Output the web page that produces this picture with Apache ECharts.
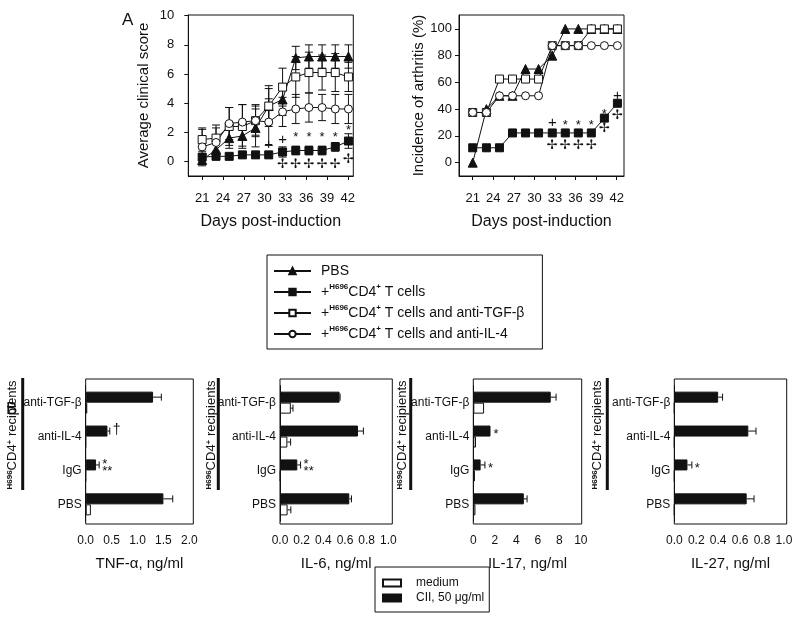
<!DOCTYPE html>
<html><head><meta charset="utf-8">
<script src="https://cdn.jsdelivr.net/npm/echarts@6/dist/echarts.min.js"></script>
<style>html,body{margin:0;padding:0;background:#fff}#c{width:800px;height:617px}</style>
</head><body><div id="c"></div><script>
// ---------- data: panel A ----------
const days = [21, 23, 24.9, 26.8, 28.7, 30.6, 32.6, 34.5, 36.4, 38.3, 40.2, 42.1];
const dayTicks = [21, 24, 27, 30, 33, 36, 39, 42];
const scoreTicks = [0, 2, 4, 6, 8, 10];
const incTicks = [0, 20, 40, 60, 80, 100];
const groupNames = ['PBS', '+H696CD4+ T cells', '+H696CD4+ T cells and anti-TGF-β', '+H696CD4+ T cells and anti-IL-4'];

const pbsScore = [0.1, 0.8, 1.6, 1.75, 2.3, 3.8, 4.25, 7.1, 7.2, 7.2, 7.2, 7.2];
const pbsScoreErr = [0.4, 0.5, 0.7, 0.7, 1.3, 1.2, 1.1, 0.8, 0.8, 0.8, 0.8, 0.8];
const cd4Score = [0.3, 0.35, 0.35, 0.45, 0.45, 0.45, 0.65, 0.75, 0.75, 0.75, 1.0, 1.4];
const cd4ScoreErr = [0.2, 0.2, 0.2, 0.15, 0.15, 0.15, 0.35, 0.3, 0.3, 0.3, 0.3, 0.5];
const tgfScore = [1.5, 1.6, 2.4, 2.4, 2.8, 3.8, 5.1, 5.8, 6.1, 6.1, 6.1, 5.8];
const tgfScoreErr = [0.8, 0.9, 1.3, 1.5, 1.1, 1.4, 1.3, 1.4, 1.4, 1.2, 1.3, 1.0];
const il4Score = [1.0, 1.3, 2.6, 2.7, 2.8, 2.7, 3.4, 3.6, 3.7, 3.7, 3.6, 3.6];
const il4ScoreErr = [1.2, 1.0, 1.1, 1.2, 1.0, 1.6, 1.0, 1.0, 1.0, 0.9, 1.0, 1.0];

const pbsInc = [0, 40, 50, 50, 70, 70, 80, 100, 100, 100, 100, 100];
const cd4Inc = [11.1, 11.1, 11.1, 22.2, 22.2, 22.2, 22.2, 22.2, 22.2, 22.2, 33.3, 44.4];
const tgfInc = [37.5, 37.5, 62.5, 62.5, 62.5, 62.5, 87.5, 87.5, 87.5, 100, 100, 100];
const il4Inc = [37.5, 37.5, 50, 50, 50, 50, 87.5, 87.5, 87.5, 87.5, 87.5, 87.5];

// [day index, value, mark]
const scoreNotes = [[5, 1.15, '+'], [6, 1.45, '+'], [7, 1.85, '*'], [8, 1.85, '*'], [9, 1.85, '*'], [10, 1.85, '*'], [11, 2.3, '*'],
  [6, -0.23, '✢'], [7, -0.23, '✢'], [8, -0.23, '✢'], [9, -0.23, '✢'], [10, -0.23, '✢'], [11, 0.16, '✢']];
const incNotes = [[6, 29.4, '+'], [7, 30.3, '*'], [8, 30.3, '*'], [9, 30.3, '*'], [10, 38, '*'], [11, 50, '+'],
  [6, 13.2, '✢'], [7, 13.2, '✢'], [8, 13.2, '✢'], [9, 13.2, '✢'], [10, 25.4, '✢'], [11, 35.3, '✢']];

// ---------- data: panel B ----------
const cytoCats = ['anti-TGF-β', 'anti-IL-4', 'IgG', 'PBS'];
const tnfCII = [1.3, 0.42, 0.2, 1.5], tnfCIIErr = [0.16, 0.045, 0.06, 0.18];
const tnfMed = [0.03, 0, 0, 0.1], tnfMedErr = [0, 0, 0, 0];
const tnfNotes = ['', '†', '*\n**', ''];
const tnfTicks = [0, 0.5, 1.0, 1.5, 2.0];
const il6CII = [0.55, 0.72, 0.16, 0.64], il6CIIErr = [0.005, 0.05, 0.03, 0.02];
const il6Med = [0.1, 0.068, 0.005, 0.07], il6MedErr = [0.02, 0.03, 0, 0.03];
const il6Notes = ['', '', '*\n**', ''];
const il6Ticks = [0, 0.2, 0.4, 0.6, 0.8, 1.0];
const il17CII = [7.2, 1.6, 0.68, 4.7], il17CIIErr = [0.5, 0, 0.4, 0.3];
const il17Med = [1.0, 0.25, 0.15, 0.2], il17MedErr = [0, 0, 0, 0];
const il17Notes = ['', '*', '*', ''];
const il17Ticks = [0, 2, 4, 6, 8, 10];
const il27CII = [0.4, 0.675, 0.12, 0.66], il27CIIErr = [0.04, 0.07, 0.04, 0.067];
const il27Med = [0, 0, 0, 0], il27MedErr = [0, 0, 0, 0];
const il27Notes = ['', '', '*', ''];
const il27Ticks = [0, 0.2, 0.4, 0.6, 0.8, 1.0];
const barNames = ['medium', 'CII, 50 μg/ml'];

// ---------- rendering ----------
const FONT = 'Liberation Sans, Arial, DejaVu Sans, sans-serif';
const INK = '#111';
const chart = echarts.init(document.getElementById('c'));

function fmt1(v) { return v.toFixed(1); }

function lineSeries(name, gi, vals, symbol, size, filled) {
  return {
    type: 'line', name, xAxisIndex: gi, yAxisIndex: gi, z: 3,
    data: days.map((d, i) => [d, vals[i]]),
    symbol, symbolSize: size, showAllSymbol: true, animation: false,
    lineStyle: { color: INK, width: 1 },
    itemStyle: { color: filled ? INK : '#fff', borderColor: INK, borderWidth: 1 }
  };
}
function errSeries(gi, vals, errs) {
  return {
    type: 'custom', name: 'err' + gi + vals[0] + errs[0], xAxisIndex: gi, yAxisIndex: gi, z: 1, silent: true, animation: false,
    data: days.map((d, i) => [d, vals[i], errs[i]]),
    renderItem(params, api) {
      const x = api.value(0), y = api.value(1), e = api.value(2);
      const lo = api.coord([x, y - e]), hi = api.coord([x, y + e]);
      const w = 4, st = { stroke: INK, lineWidth: 1 };
      return { type: 'group', children: [
        { type: 'line', shape: { x1: lo[0], y1: lo[1], x2: hi[0], y2: hi[1] }, style: st },
        { type: 'line', shape: { x1: lo[0] - w, y1: lo[1], x2: lo[0] + w, y2: lo[1] }, style: st },
        { type: 'line', shape: { x1: hi[0] - w, y1: hi[1], x2: hi[0] + w, y2: hi[1] }, style: st }
      ]};
    }
  };
}
function noteSeries(gi, notes) {
  return {
    type: 'custom', name: 'notes' + gi, xAxisIndex: gi, yAxisIndex: gi, z: 4, silent: true, animation: false,
    data: notes.map(n => [days[n[0]], n[1]]),
    renderItem(params, api) {
      const p = api.coord([api.value(0), api.value(1)]);
      const t = notes[params.dataIndex][2];
      const dy = t === '*' ? 3 : 0;
      return { type: 'text', x: p[0], y: p[1] + dy, style: { text: t, fill: INK, fontFamily: FONT, fontSize: t === '+' ? 15 : 13, align: 'center', verticalAlign: 'middle' } };
    }
  };
}

// panel B layout
const bGrids = [
  { left: 85.7, width: 107.6, max: 2.077 },
  { left: 280, width: 112.3, max: 1.037 },
  { left: 473.3, width: 108.4, max: 10.08 },
  { left: 674.3, width: 112.4, max: 1.025 }
];
const bTop = 385.7, bH = 135.6, frameTop = 379, frameH = 145;
const bSets = [
  { cii: tnfCII, ciiErr: tnfCIIErr, med: tnfMed, medErr: tnfMedErr, notes: tnfNotes, ticks: tnfTicks, title: 'TNF-α, ng/ml' },
  { cii: il6CII, ciiErr: il6CIIErr, med: il6Med, medErr: il6MedErr, notes: il6Notes, ticks: il6Ticks, title: 'IL-6, ng/ml' },
  { cii: il17CII, ciiErr: il17CIIErr, med: il17Med, medErr: il17MedErr, notes: il17Notes, ticks: il17Ticks, title: 'IL-17, ng/ml' },
  { cii: il27CII, ciiErr: il27CIIErr, med: il27Med, medErr: il27MedErr, notes: il27Notes, ticks: il27Ticks, title: 'IL-27, ng/ml' }
];

function barErrSeries(gi, vals, errs, off, notes) {
  return {
    type: 'custom', name: 'berr' + gi + off, xAxisIndex: gi, yAxisIndex: gi, z: 4, silent: true, animation: false,
    data: vals.map((v, i) => [v, i, errs[i]]),
    renderItem(params, api) {
      const v = api.value(0), ci = api.value(1), e = api.value(2);
      const p0 = api.coord([v, ci]), p1 = api.coord([v + e, ci]);
      const y = p0[1] + off, st = { stroke: INK, lineWidth: 1 };
      const ch = [];
      if (e > 0) {
        ch.push({ type: 'line', shape: { x1: p0[0], y1: y, x2: p1[0], y2: y }, style: st });
        ch.push({ type: 'line', shape: { x1: p1[0], y1: y - 3.5, x2: p1[0], y2: y + 3.5 }, style: st });
      }
      const t = notes ? notes[params.dataIndex] : '';
      if (t) {
        ch.push({ type: 'text', x: p1[0] + 3, y: y + (t === '†' ? -1 : 3), style: { text: t, fill: INK, fontFamily: FONT, fontSize: t === '†' ? 14 : 13, lineHeight: 7, align: 'left', verticalAlign: 'middle' } });
      }
      return { type: 'group', children: ch };
    }
  };
}

const grid = [
  { left: 188.3, top: 15, width: 165, height: 161, show: true, borderColor: INK, borderWidth: 1 },
  { left: 459, top: 15, width: 165, height: 161, show: true, borderColor: INK, borderWidth: 1 }
];
const xAxis = [
  { gridIndex: 0, type: 'value', min: 19, max: 42.8, splitLine: { show: false },
    axisLine: { onZero: false, lineStyle: { color: INK } },
    axisTick: { customValues: dayTicks, length: 4, lineStyle: { color: INK } },
    axisLabel: { customValues: dayTicks, margin: 16, color: INK, fontFamily: FONT, fontSize: 13 },
    name: 'Days post-induction', nameLocation: 'middle', nameGap: 38, nameTextStyle: { color: INK, fontFamily: FONT, fontSize: 16 } },
  { gridIndex: 1, type: 'value', min: 19, max: 43.06, splitLine: { show: false },
    axisLine: { onZero: false, lineStyle: { color: INK } },
    axisTick: { customValues: dayTicks, length: 4, lineStyle: { color: INK } },
    axisLabel: { customValues: dayTicks, margin: 16, color: INK, fontFamily: FONT, fontSize: 13 },
    name: 'Days post-induction', nameLocation: 'middle', nameGap: 38, nameTextStyle: { color: INK, fontFamily: FONT, fontSize: 16 } }
];
const yAxis = [
  { gridIndex: 0, type: 'value', min: -1, max: 10.05, splitLine: { show: false },
    axisLine: { onZero: false, lineStyle: { color: INK } },
    axisTick: { customValues: scoreTicks, length: 4, lineStyle: { color: INK } },
    axisLabel: { customValues: scoreTicks, margin: 14, color: INK, fontFamily: FONT, fontSize: 13 },
    name: 'Average clinical score', nameLocation: 'middle', nameGap: 37, nameTextStyle: { color: INK, fontFamily: FONT, fontSize: 15 } },
  { gridIndex: 1, type: 'value', min: -10, max: 110.4, splitLine: { show: false },
    axisLine: { onZero: false, lineStyle: { color: INK } },
    axisTick: { customValues: incTicks, length: 4, lineStyle: { color: INK } },
    axisLabel: { customValues: incTicks, margin: 7, color: INK, fontFamily: FONT, fontSize: 13 },
    name: 'Incidence of arthritis (%)', nameLocation: 'middle', nameGap: 27, nameTextStyle: { color: INK, fontFamily: FONT, fontSize: 15 } }
];
const series = [
  lineSeries(groupNames[0], 0, pbsScore, 'triangle', 9, true),
  lineSeries(groupNames[1], 0, cd4Score, 'rect', 8, true),
  lineSeries(groupNames[2], 0, tgfScore, 'rect', 8, false),
  lineSeries(groupNames[3], 0, il4Score, 'circle', 8, false),
  errSeries(0, pbsScore, pbsScoreErr), errSeries(0, cd4Score, cd4ScoreErr),
  errSeries(0, tgfScore, tgfScoreErr), errSeries(0, il4Score, il4ScoreErr),
  noteSeries(0, scoreNotes),
  lineSeries(groupNames[0], 1, pbsInc, 'triangle', 9, true),
  lineSeries(groupNames[1], 1, cd4Inc, 'rect', 8, true),
  lineSeries(groupNames[2], 1, tgfInc, 'rect', 8, false),
  lineSeries(groupNames[3], 1, il4Inc, 'circle', 8, false),
  noteSeries(1, incNotes)
];
const graphic = [
  { type: 'text', left: 122, top: 12, style: { text: 'A', fontFamily: FONT, fontSize: 17, fill: INK } },
  { type: 'text', left: 6, top: 401, style: { text: 'B', fontFamily: FONT, fontSize: 17, fill: INK } }
];
const recipX = [[12, 22.7], [211, 218.3], [402, 410.7], [597, 607.3]];

bSets.forEach((s, k) => {
  const gi = k + 2, g = bGrids[k];
  grid.push({ left: g.left, top: bTop, width: g.width, height: bH });
  xAxis.push({ gridIndex: gi, type: 'value', min: 0, max: g.max, offset: frameTop + frameH - bTop - bH,
    splitLine: { show: false }, axisLine: { show: false },
    axisTick: { customValues: s.ticks, length: 4, lineStyle: { color: INK } },
    axisLabel: { customValues: s.ticks, margin: 11, color: INK, fontFamily: FONT, fontSize: 12, formatter: k === 2 ? (v => String(v)) : fmt1 },
    name: s.title, nameLocation: 'middle', nameGap: 32, nameTextStyle: { color: INK, fontFamily: FONT, fontSize: 15 } });
  yAxis.push({ gridIndex: gi, type: 'category', inverse: true, data: cytoCats,
    axisLine: { lineStyle: { color: INK } },
    axisTick: { alignWithLabel: true, length: 4, lineStyle: { color: INK } },
    axisLabel: { margin: 4, color: INK, fontFamily: FONT, fontSize: 12 } });
  series.push({ type: 'bar', name: barNames[1], xAxisIndex: gi, yAxisIndex: gi, data: s.cii, barWidth: 11, barGap: '0%', animation: false,
    itemStyle: { color: INK, borderColor: INK, borderWidth: 1 } });
  series.push({ type: 'bar', name: barNames[0], xAxisIndex: gi, yAxisIndex: gi, data: s.med, barWidth: 11, barGap: '0%', animation: false,
    itemStyle: { color: '#fff', borderColor: INK, borderWidth: 1 } });
  series.push(barErrSeries(gi, s.cii, s.ciiErr, -5.5, s.notes));
  series.push(barErrSeries(gi, s.med, s.medErr, 5.5, null));
  graphic.push({ type: 'rect', shape: { x: g.left, y: frameTop, width: g.width, height: frameH }, style: { fill: 'none', stroke: INK, lineWidth: 1 }, z: 10 });
  graphic.push({ type: 'rect', shape: { x: recipX[k][1] - 1.5, y: 378, width: 3, height: 112 }, style: { fill: INK } });
  graphic.push({ type: 'text', x: recipX[k][0], y: 435, rotation: Math.PI / 2,
    style: { text: '{s|H696}CD4{s|+} recipients', fontFamily: FONT, fontSize: 13, fill: INK, align: 'center', verticalAlign: 'middle',
      rich: { s: { fontSize: 8, fontWeight: 'bold', fontFamily: FONT, verticalAlign: 'top', lineHeight: 10 } } } });
});

const legendRich = { s: { fontSize: 8, fontWeight: 'bold', fontFamily: FONT, verticalAlign: 'top', lineHeight: 10 } };
const legendText = {};
legendText[groupNames[0]] = 'PBS';
legendText[groupNames[1]] = '+{s|H696}CD4{s|+} T cells';
legendText[groupNames[2]] = '+{s|H696}CD4{s|+} T cells and anti-TGF-β';
legendText[groupNames[3]] = '+{s|H696}CD4{s|+} T cells and anti-IL-4';

chart.setOption({
  animation: false,
  grid, xAxis, yAxis, series, graphic,
  legend: [
    { data: groupNames, orient: 'vertical', left: 267, top: 255, selectedMode: false,
      padding: [7, 18, 6, 6], itemGap: 3, itemWidth: 37, itemHeight: 8,
      borderColor: INK, borderWidth: 1,
      formatter: n => legendText[n],
      textStyle: { color: INK, fontFamily: FONT, fontSize: 14, lineHeight: 18, padding: [0, 0, 0, 5], rich: legendRich } },
    { data: barNames, orient: 'vertical', left: 375, top: 567, selectedMode: false, icon: 'rect',
      padding: [10, 5, 8, 7], itemGap: 3, itemWidth: 18, itemHeight: 7,
      borderColor: INK, borderWidth: 1,
      textStyle: { color: INK, fontFamily: FONT, fontSize: 12, padding: [0, 0, 0, 10] } }
  ]
});
</script></body></html>
